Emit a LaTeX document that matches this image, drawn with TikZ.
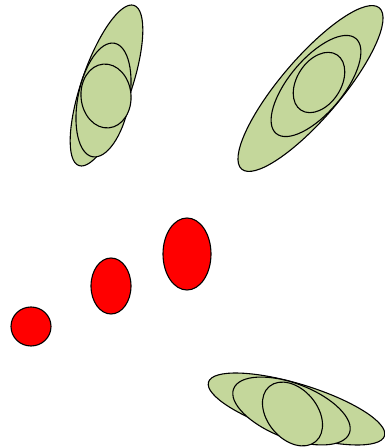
\documentclass[tikz,border=0pt]{standalone}
\usepackage{tikz}

\definecolor{leafgreen}{RGB}{196,215,155}

\begin{document}
\begin{tikzpicture}[
    x=1pt, y=1pt,
    blob/.style={draw=black, fill=leafgreen, line width=1.1pt},
    spot/.style={draw=black, fill=red, line width=1.1pt}
]
\useasboundingbox (0,0) rectangle (385,447);

\draw[blob, shift={(106.5,361.5)}, rotate=71] (0,0) ellipse [x radius=84.7pt, y radius=25pt];
\draw[blob, shift={(103.5,347)}, rotate=79] (0,0) ellipse [x radius=57.8pt, y radius=25.7pt];
\draw[blob, shift={(106,351)}, rotate=95] (0,0) ellipse [x radius=32pt, y radius=25pt];

\draw[blob, shift={(310.5,358.5)}, rotate=49.5] (0,0) ellipse [x radius=106pt, y radius=30pt];
\draw[blob, shift={(316,361)}, rotate=50] (0,0) ellipse [x radius=62pt, y radius=27pt];
\draw[blob, shift={(319,364.5)}, rotate=57] (0,0) ellipse [x radius=33pt, y radius=22pt];

\draw[spot] (31,120.5) ellipse [x radius=20pt, y radius=19.5pt];
\draw[spot] (111,161) ellipse [x radius=20pt, y radius=28pt];
\draw[spot] (187,193) ellipse [x radius=24pt, y radius=36pt];

\draw[blob, shift={(296.5,38)}, rotate=-17] (0,0) ellipse [x radius=92pt, y radius=25pt];
\draw[blob, shift={(291.5,36)}, rotate=-21] (0,0) ellipse [x radius=62pt, y radius=27.5pt];
\draw[blob, shift={(292.5,33)}, rotate=-50] (0,0) ellipse [x radius=36pt, y radius=25pt];
\end{tikzpicture}
\end{document}
